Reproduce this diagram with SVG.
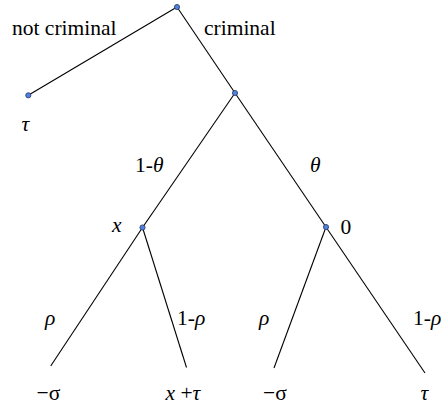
<svg xmlns="http://www.w3.org/2000/svg" width="441" height="410" viewBox="0 0 441 410">
<style>
.e{stroke:#000;stroke-width:1.1;fill:none}
.n{fill:#4f7fe0;stroke:#2a3a60;stroke-width:0.8}
text{font-family:"Liberation Serif","Times New Roman",serif;font-size:21.5px;fill:#000}
.i{font-style:italic}
</style>
<rect width="441" height="410" fill="#fff"/>
<g id="edges">
<line class="e" x1="177" y1="7" x2="28.3" y2="95.3"/>
<line class="e" x1="177" y1="7" x2="235" y2="93"/>
<line class="e" x1="235" y1="93" x2="142.5" y2="227.5"/>
<line class="e" x1="235" y1="93" x2="425" y2="373"/>
<line class="e" x1="142.5" y1="227.5" x2="50.7" y2="366"/>
<line class="e" x1="142.5" y1="227.5" x2="186.5" y2="367.5"/>
<line class="e" x1="326" y1="227" x2="274" y2="368"/>
</g>
<g id="root"><circle class="n" cx="177" cy="7" r="2.6"/></g>
<g id="notcriminal"><circle class="n" cx="28.3" cy="95.3" r="2.6"/><text x="21.5" y="131" class="i">τ</text></g>
<g id="criminalnode"><circle class="n" cx="235" cy="93" r="2.6"/></g>
<g id="xnode"><circle class="n" cx="142.5" cy="227.5" r="2.6"/><text x="112" y="232" class="i">x</text></g>
<g id="zeronode"><circle class="n" cx="326" cy="227" r="2.6"/><text x="340.5" y="234">0</text></g>
<g id="leaf1"><text x="36.5" y="400">−σ</text></g>
<g id="leaf2"><text x="165.5" y="400"><tspan class="i">x</tspan> +<tspan class="i">τ</tspan></text></g>
<g id="leaf3"><text x="263" y="400">−σ</text></g>
<g id="leaf4"><text x="420.5" y="400" class="i">τ</text></g>
<g id="labels">
<text x="12" y="35">not criminal</text>
<text x="204" y="35">criminal</text>
<text x="135" y="172">1-<tspan class="i">θ</tspan></text>
<text x="310" y="172" class="i">θ</text>
<text x="45" y="325" class="i">ρ</text>
<text x="177" y="325">1-<tspan class="i">ρ</tspan></text>
<text x="259" y="325" class="i">ρ</text>
<text x="413" y="325">1-<tspan class="i">ρ</tspan></text>
</g>
</svg>
